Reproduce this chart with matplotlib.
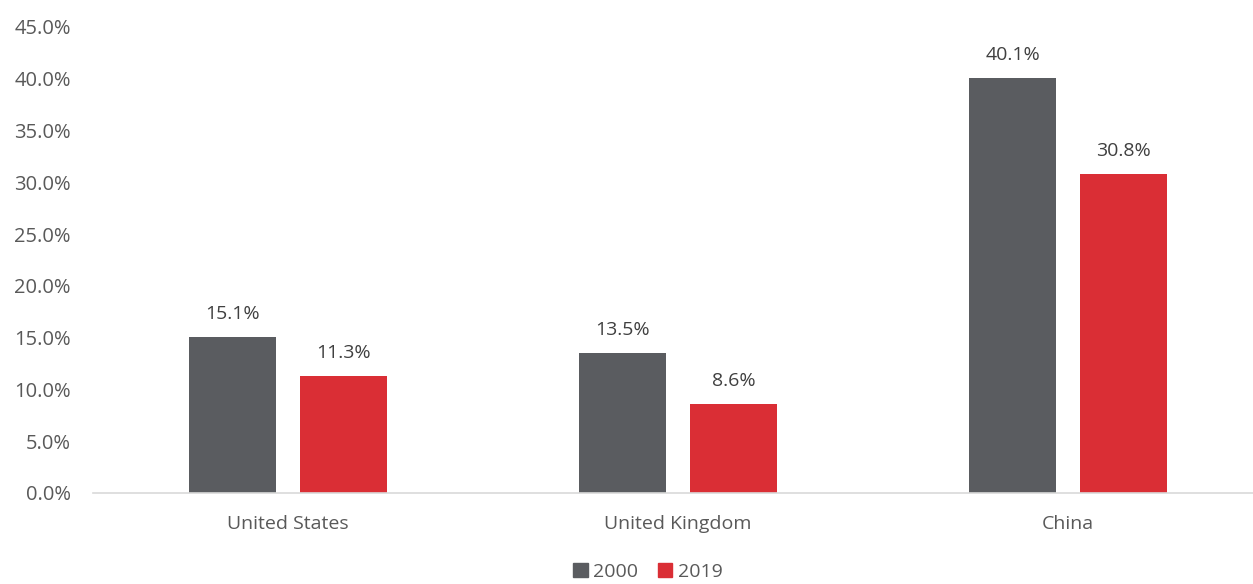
import matplotlib
matplotlib.use("Agg")
import matplotlib.pyplot as plt
import numpy as np
from matplotlib.patches import Patch

categories = ["United States", "United Kingdom", "China"]
series_names = ["2000", "2019"]
values_2000 = [15.1, 13.5, 40.1]
values_2019 = [11.3, 8.6, 30.8]
y_ticks = [0, 5, 10, 15, 20, 25, 30, 35, 40, 45]

colors = ["#5A5C60", "#DA2E35"]
label_color = "#404040"
tick_color = "#595959"

plt.rcParams["font.family"] = ["Open Sans", "DejaVu Sans"]

fig = plt.figure(figsize=(12.53, 5.84), dpi=100)
ax = fig.add_axes([93 / 1253, 91 / 584, 1170 / 1253, (493 - 27) / 584])

x = np.arange(len(categories))
width = 0.223
offset = 0.142
for vals, col, sign in [(values_2000, colors[0], -1), (values_2019, colors[1], 1)]:
    bars = ax.bar(x + sign * offset, vals, width=width, color=col, zorder=2)
    for b, v in zip(bars, vals):
        ax.annotate(f"{v:.1f}%", (b.get_x() + b.get_width() / 2, v),
                    xytext=(0, 10), textcoords="offset points",
                    ha="center", va="bottom", fontsize=14, color=label_color)

ax.set_xlim(-0.5, len(categories) - 0.5)
ax.set_ylim(0, 45)
ax.set_yticks(y_ticks)
ax.set_yticklabels([f"{t:.1f}%" for t in y_ticks])
ax.set_xticks(x)
ax.set_xticklabels(categories)
ax.tick_params(axis="both", length=0, labelsize=14, colors=tick_color)
ax.tick_params(axis="y", labelsize=14.5, pad=16)
ax.tick_params(axis="x", pad=16)
for s in ["top", "right", "left"]:
    ax.spines[s].set_visible(False)
ax.spines["bottom"].set_color("#D9D9D9")
ax.spines["bottom"].set_linewidth(1.2)

handles = [Patch(color=c, label=n) for c, n in zip(colors, series_names)]
fig.legend(handles=handles, loc="center", bbox_to_anchor=(648 / 1253, 1 - 572 / 584),
           ncol=2, frameon=False, fontsize=14, handlelength=0.75, handleheight=0.75,
           handletextpad=0.3, columnspacing=1.0, labelcolor=tick_color)

fig.savefig("out.png", dpi=100)
